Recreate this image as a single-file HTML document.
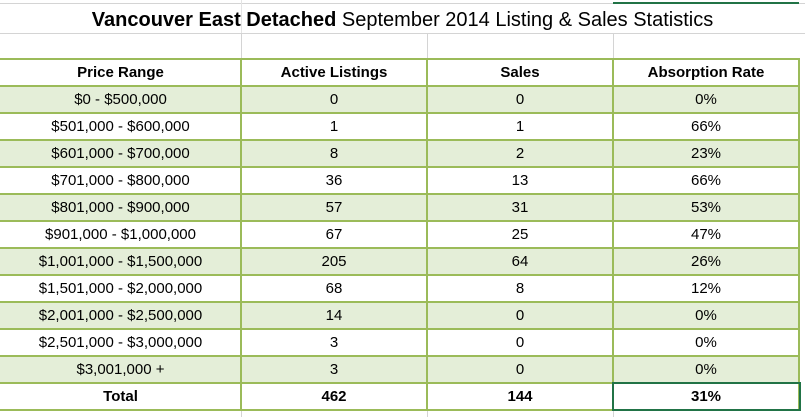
<!DOCTYPE html>
<html><head><meta charset="utf-8"><style>
body{margin:0;width:805px;height:417px;overflow:hidden;background:#fff;font-family:"Liberation Sans",Arial,sans-serif;position:relative}
.a{position:absolute}
.h{position:absolute;height:0;border-top:1px solid #d4d4d4}
.v{position:absolute;width:0;border-left:1px solid #d4d4d4}
.c{position:absolute;text-align:center;font-size:15px;line-height:27px;color:#000}
</style></head><body>
<div class="h" style="left:0;top:3px;width:805px"></div>
<div class="a" style="left:613px;top:2px;width:186px;height:2px;background:#217346"></div>
<div class="h" style="left:0;top:33px;width:805px"></div>
<div class="v" style="left:241px;top:33px;height:25px"></div>
<div class="v" style="left:427px;top:33px;height:25px"></div>
<div class="v" style="left:613px;top:33px;height:25px"></div>
<div class="v" style="left:241px;top:0;height:33px;border-color:#e4e4e4"></div>
<div class="v" style="left:241px;top:410px;height:7px"></div>
<div class="v" style="left:427px;top:410px;height:7px"></div>
<div class="v" style="left:613px;top:410px;height:7px"></div>
<div class="a" style="left:0;top:6px;width:805px;text-align:center;font-size:20px;line-height:28px"><b>Vancouver East Detached</b> September 2014 Listing &amp; Sales Statistics</div>
<div id="tbl"></div>
<script>
const ranges=["$0 - $500,000","$501,000 - $600,000","$601,000 - $700,000","$701,000 - $800,000","$801,000 - $900,000","$901,000 - $1,000,000","$1,001,000 - $1,500,000","$1,501,000 - $2,000,000","$2,001,000 - $2,500,000","$2,501,000 - $3,000,000","$3,001,000 +"];
const listings=[0,1,8,36,57,67,205,68,14,3,3];
const sales=[0,1,2,13,31,25,64,8,0,0,0];
const rates=["0%","66%","23%","66%","53%","47%","26%","12%","0%","0%","0%"];
const headers=["Price Range","Active Listings","Sales","Absorption Rate"];
const totals=["Total","462","144","31%"];
const colX=[0,241,427,613,799];
const top0=59,rowH=27;
const root=document.body;
function cell(txt,ci,y,bold,name){
  const d=document.createElement('div');
  d.className='c';
  d.style.left=colX[ci]+'px';d.style.width=(colX[ci+1]-colX[ci])+'px';d.style.top=y+'px';
  if(bold)d.style.fontWeight='bold';
  d.textContent=txt;
  
  
  root.appendChild(d);
}
const allRows=[headers].concat(ranges.map((r,i)=>[r,String(listings[i]),String(sales[i]),rates[i]])).concat([totals]);
allRows.forEach((row,ri)=>{
  const y=top0+ri*rowH;
  if(ri>=1&&ri<=11&&(ri-1)%2===0){
    const bg=document.createElement('div');
    bg.className='a';
    bg.style.cssText='left:0;top:'+y+'px;width:799px;height:'+rowH+'px;background:#e4eed8';
    
    
    root.appendChild(bg);
  }
  row.forEach((t,ci)=>cell(t,ci,y,ri===0||ri===12,ri===0?'header-cell':(ri===12?'total-cell':'data-cell')));
});
for(let i=0;i<=13;i++){
  const l=document.createElement('div');
  l.className='a';
  l.style.cssText='left:0;top:'+(top0-1+i*rowH)+'px;width:800px;height:2px;background:#9bbb59';
  
  
  root.appendChild(l);
}
colX.slice(1).forEach(x=>{
  const l=document.createElement('div');
  l.className='a';
  l.style.cssText='left:'+(x-1)+'px;top:'+(top0-1)+'px;width:2px;height:'+(13*rowH+2)+'px;background:#9bbb59';
  
  
  root.appendChild(l);
});
const s=document.createElement('div');
s.className='a';
s.style.cssText='left:612px;top:'+(top0-1+12*rowH)+'px;width:185px;height:25px;border:2px solid #217346';


root.appendChild(s);
</script>
</body></html>
